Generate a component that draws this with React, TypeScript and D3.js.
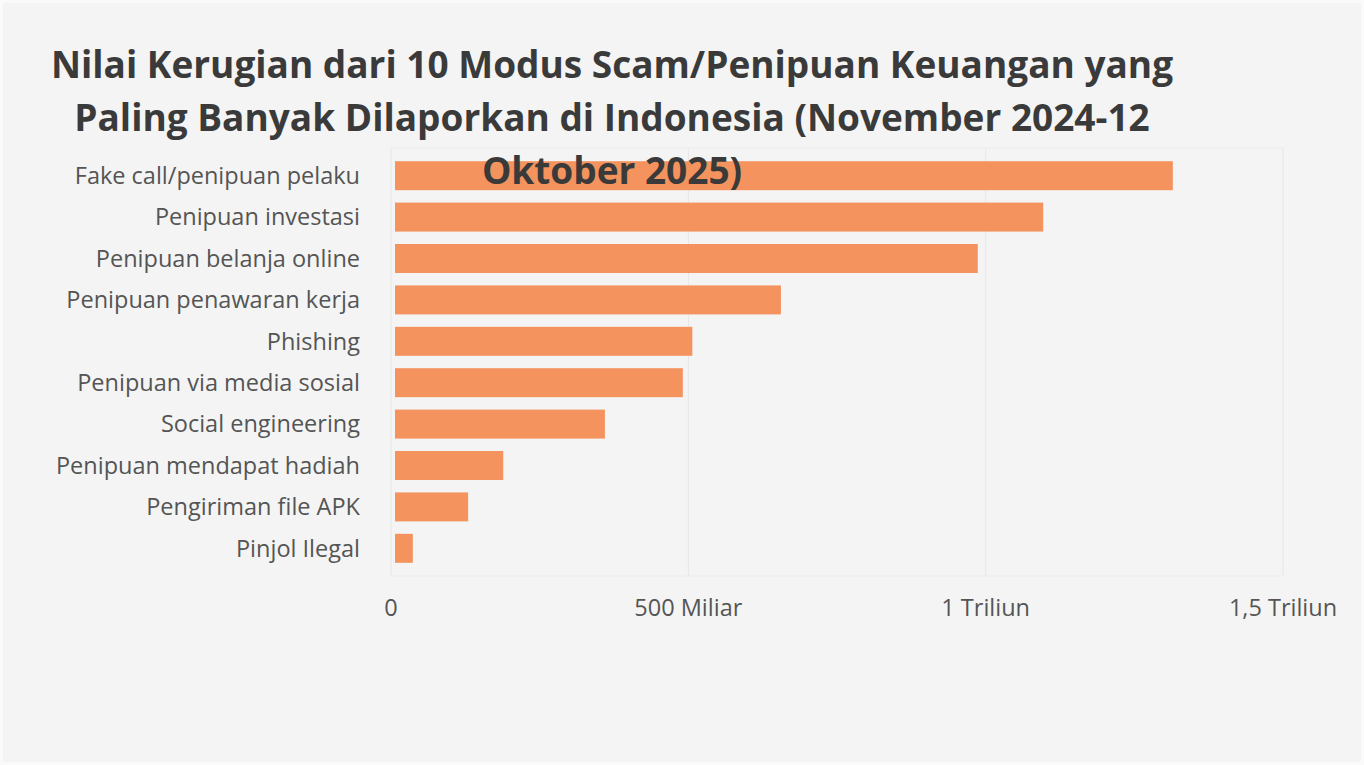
import React from "react";
import * as d3 from "d3";

const categories = [
  "Fake call/penipuan pelaku",
  "Penipuan investasi",
  "Penipuan belanja online",
  "Penipuan penawaran kerja",
  "Phishing",
  "Penipuan via media sosial",
  "Social engineering",
  "Penipuan mendapat hadiah",
  "Pengiriman file APK",
  "Pinjol Ilegal",
];
// loss value in billion rupiah (miliar)
const values = [1308, 1090, 980, 649, 500, 484, 353, 182, 123, 30];
const tickValues = [0, 500, 1000, 1500];
const tickLabels = ["0", "500 Miliar", "1 Triliun", "1,5 Triliun"];
const titleLines = [
  "Nilai Kerugian dari 10 Modus Scam/Penipuan Keuangan yang",
  "Paling Banyak Dilaporkan di Indonesia (November 2024-12",
  "Oktober 2025)",
];

const W = 1364;
const H = 765;

export default function App() {
  const x = d3.scaleLinear().domain([0, 1500]).range([391, 1283]);
  const y = d3.scaleBand().domain(categories).range([155, 569]).paddingInner(0.3).paddingOuter(0.15);
  const font = "'Open Sans', 'Noto Sans', sans-serif";
  return (
    <div style={{ position: "fixed", left: 0, top: 0, width: W, height: H }}>
      <svg width={W} height={H} style={{ display: "block" }}>
        <rect x={0} y={0} width={W} height={H} fill="#f4f4f4" />
        <rect x={1.5} y={1.5} width={W - 3} height={H - 3} fill="none" stroke="#fafafa" strokeWidth={3} />
        {tickValues.map((t) => (
          <line key={"g" + t} x1={x(t)} x2={x(t)} y1={148} y2={576} stroke="#e6e6e6" strokeWidth={1} />
        ))}
        <line x1={x(0)} x2={x(1500)} y1={148} y2={148} stroke="#ececec" />
        <line x1={x(0)} x2={x(1500)} y1={576} y2={576} stroke="#ececec" />
        {categories.map((c, i) => (
          <rect key={c} x={x(0) + 4} y={y(c)!} width={x(values[i]) - x(0)} height={y.bandwidth()} fill="#f4935e" />
        ))}
        {categories.map((c) => (
          <text key={"l" + c} x={360} y={y(c)! + y.bandwidth() / 2} dy="0.35em" textAnchor="end"
            fontFamily={font} fontSize={23.5} fill="#555">{c}</text>
        ))}
        {tickValues.map((t, i) => (
          <text key={"t" + t} x={x(t)} y={608} dy="0.35em" textAnchor="middle"
            fontFamily={font} fontSize={23.5} fill="#555">{tickLabels[i]}</text>
        ))}
        {titleLines.map((l, i) => (
          <text key={"h" + i} x={612} y={78 + i * 53} textAnchor="middle" fontFamily={font}
            fontWeight={700} fontSize={37} fill="#3a3a3a">{l}</text>
        ))}
      </svg>
    </div>
  );
}
